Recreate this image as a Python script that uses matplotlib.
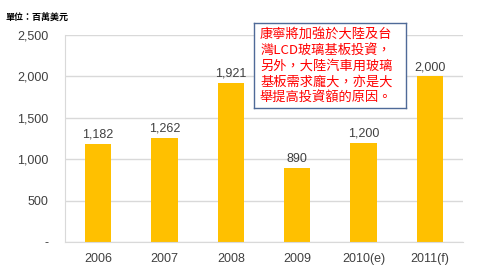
import matplotlib
matplotlib.use('Agg')
import matplotlib.pyplot as plt

plt.rcParams['font.family'] = ['Noto Sans CJK TC', 'DejaVu Sans']

years = ['2006', '2007', '2008', '2009', '2010(e)', '2011(f)']
values = [1182, 1262, 1921, 890, 1200, 2000]
yticks = [0, 500, 1000, 1500, 2000, 2500]
ytick_labels = ['-', '500', '1,000', '1,500', '2,000', '2,500']
note = '康寧將加強於大陸及台\n灣LCD玻璃基板投資，\n另外，大陸汽車用玻璃\n基板需求龐大，亦是大\n舉提高投資額的原因。'

W, H = 481, 273
fig = plt.figure(figsize=(W/100, H/100), dpi=100)
ax = fig.add_axes([65/W, 1 - 242/H, (463-65)/W, (242-35)/H])

x = range(len(years))
ax.bar(x, values, width=0.4, color='#FFC000', zorder=2)
for xi, v in zip(x, values):
    ax.text(xi, v + 40, f'{v:,}', ha='center', va='bottom', fontsize=9,
            color='#404040', family='Liberation Sans')

ax.set_xlim(-0.5, len(years) - 0.5)
ax.set_ylim(0, 2500)
ax.set_yticks(yticks)
ax.set_yticklabels(ytick_labels, family='Liberation Sans')
ax.set_xticks(list(x))
ax.set_xticklabels(years, family='Liberation Sans')
ax.tick_params(axis='both', length=0, labelsize=9, colors='#404040')
ax.tick_params(axis='y', pad=12)
ax.tick_params(axis='x', pad=8)
ax.yaxis.grid(True, color='#D9D9D9', linewidth=1, zorder=0)
for s in ['top', 'right']:
    ax.spines[s].set_visible(False)
ax.spines['left'].set_color('#D9D9D9')
ax.spines['bottom'].set_color('#D9D9D9')

fig.text(5/W, 1 - 17/H, '單位：百萬美元', fontsize=6.5, va='center', ha='left',
         color='black', fontweight='bold')

# annotation box as a small axes on top
box = fig.add_axes([254/W, 1 - 108/H, (406-254)/W, (108-23)/H], zorder=5)
box.set_facecolor('white')
box.set_xticks([])
box.set_yticks([])
for s in box.spines.values():
    s.set_color('#4F6A98')
    s.set_linewidth(1)
box.text(0.04, 0.95, note, transform=box.transAxes, fontsize=9.5, color='#FF0000',
         va='top', ha='left', linespacing=1.32)

fig.savefig('out.png', dpi=100)
